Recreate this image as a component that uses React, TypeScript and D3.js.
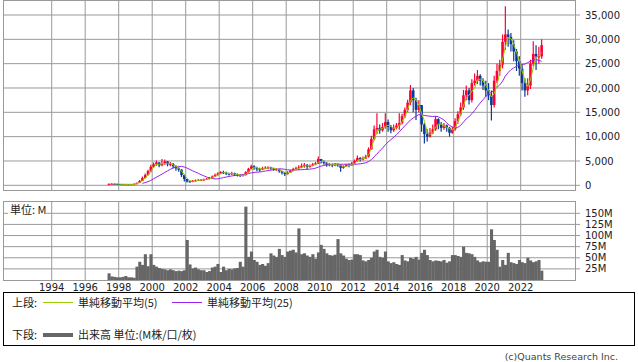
import React from 'react';
import * as d3 from 'd3';

// ---- axis ticks ----
const yearTicks = [1994, 1996, 1998, 2000, 2002, 2004, 2006, 2008, 2010, 2012, 2014, 2016, 2018, 2020, 2022];
const priceTicks = [0, 5000, 10000, 15000, 20000, 25000, 30000, 35000];
const volumeTicks = [25, 50, 75, 100, 125, 150];

// ---- time base: bi-monthly periods starting May 1997 ----
const startYear = 1997 + 4 / 12;
const periodLength = 2 / 12;

// ---- price (close / high / low per period) ----
const closes = [
  250, 320, 280, 250, // 1997
  220, 210, 210, 200, 200, 230, // 1998
  500, 900, 1500, 2100, 2900, 3800, // 1999
  4300, 4700, 4100, 4400, 4900, 4300, // 2000
  4400, 3900, 3500, 3200, 2100, 1300, // 2001
  800, 750, 900, 1000, 1100, 1100, // 2002
  1200, 1300, 1500, 1800, 2100, 2400, // 2003
  2700, 2600, 2400, 2300, 2500, 2200, // 2004
  2100, 1900, 2100, 2700, 3400, 3900, // 2005
  3600, 3300, 3200, 3500, 3600, 3700, // 2006
  3500, 3300, 3300, 2900, 2600, 2300, // 2007
  2600, 3000, 3300, 3500, 3700, 4000, // 2008
  4200, 3800, 4000, 4300, 4500, 5400, // 2009
  4900, 4600, 4200, 4300, 4100, 4300, // 2010
  4200, 3600, 3900, 4200, 4100, 4500, // 2011
  5000, 5600, 5300, 5500, 5900, 7400, // 2012
  9500, 11500, 11800, 11300, 12000, 13000, // 2013
  12000, 11300, 11800, 12300, 12800, 14200, // 2014
  15500, 17000, 19500, 17500, 15500, 16500, // 2015
  12500, 10500, 10000, 10800, 11500, 13600, // 2016
  12500, 11800, 12300, 11800, 10800, 11500, // 2017
  13200, 14600, 16000, 18500, 19500, 17500, // 2018
  21000, 21500, 22500, 21500, 20500, 19500, // 2019
  18500, 16500, 21500, 23500, 24800, 29500, // 2020
  31000, 30500, 29000, 27500, 25500, 24000, // 2021
  21000, 19500, 20500, 25000, 27000, 26500, // 2022
  26500, 28800, // 2023
];
const highs = [
  400, 400, 350, 300,
  250, 230, 230, 220, 220, 400,
  600, 1100, 1800, 2400, 3200, 4200,
  4700, 5100, 4800, 5400, 5300, 5000,
  4800, 4600, 4100, 3700, 3300, 2200,
  1300, 1000, 1100, 1200, 1300, 1300,
  1400, 1500, 1700, 2000, 2400, 2700,
  2900, 3000, 2800, 2600, 2800, 2600,
  2400, 2200, 2300, 2900, 3600, 4200,
  4100, 3800, 3600, 3800, 3900, 3900,
  3800, 3600, 3500, 3400, 3000, 2800,
  2900, 3200, 3600, 3800, 4100, 4500,
  4600, 4400, 4300, 4600, 4800, 5900,
  5400, 5100, 4800, 4600, 4500, 4600,
  4500, 4300, 4100, 4400, 4500, 4800,
  5300, 6100, 5800, 5900, 6300, 7800,
  10200, 12300, 14800, 12500, 12800, 14800,
  13500, 12400, 12500, 12800, 14800, 14700,
  16000, 17600, 20600, 20000, 18000, 17500,
  16000, 12800, 11500, 11800, 12500, 14200,
  13800, 13000, 12800, 12500, 12000, 12000,
  13800, 15200, 17000, 19600, 20500, 20000,
  21800, 23000, 23700, 22800, 22000, 21500,
  21000, 19500, 22500, 25000, 25800, 31000,
  36800, 32000, 31300, 29800, 28000, 26500,
  24800, 22000, 22000, 25800, 29600, 28800,
  28500, 30000,
];
const lows = [
  200, 250, 220, 200,
  200, 200, 190, 190, 190, 200,
  230, 450, 850, 1400, 2000, 2700,
  3600, 4000, 3700, 3900, 4200, 3900,
  3900, 3500, 3000, 2800, 1700, 800,
  600, 600, 650, 800, 900, 900,
  1000, 1100, 1200, 1400, 1700, 2000,
  2300, 2300, 2100, 2000, 2100, 1900,
  1800, 1700, 1800, 2000, 2600, 3300,
  3200, 2900, 2800, 3100, 3300, 3300,
  3200, 3000, 3000, 2600, 2200, 1900,
  2200, 2600, 2900, 3100, 3200, 3500,
  3600, 3300, 3600, 3900, 4100, 4400,
  4500, 4200, 3800, 3900, 3700, 3900,
  3800, 2800, 3400, 3800, 3700, 4000,
  4400, 4900, 4900, 5100, 5400, 5700,
  7300, 9200, 10500, 10600, 11000, 11600,
  11000, 10700, 11000, 11500, 11400, 12500,
  13800, 15000, 16500, 15000, 13400, 15000,
  11000, 8600, 9000, 9800, 10500, 11200,
  11500, 11000, 11400, 11000, 10000, 10600,
  11200, 12600, 14200, 15500, 17500, 16600,
  17000, 20500, 20800, 20500, 19600, 18200,
  17500, 13300, 16000, 21000, 22500, 24000,
  27800, 28500, 27500, 25500, 23500, 22500,
  19500, 18200, 18500, 19800, 24500, 23700,
  25000, 26000,
];

// ---- volume (millions) per period ----
const volumes = [
  15, 8, 7, 6,
  6, 7, 9, 6, 6, 5,
  30, 41, 34, 58, 31, 58,
  34, 30, 27, 25, 24, 22,
  24, 22, 20, 21, 20, 22,
  90, 35, 26, 28, 24, 22,
  22, 18, 20, 28, 30, 36,
  18, 30, 22, 25, 24, 26,
  27, 41, 30, 165, 52, 64,
  45, 41, 34, 36, 32, 38,
  60, 55, 52, 70, 56, 52,
  64, 66, 68, 62, 116, 58,
  60, 55, 52, 58, 48, 62,
  79, 70, 60, 56, 55, 57,
  92, 60, 55, 48, 45, 46,
  58, 58, 56, 44, 42, 45,
  50, 64, 68, 52, 50, 64,
  42, 38, 40, 36, 34, 56,
  44, 42, 50, 48, 52, 46,
  61, 68, 56, 45, 42, 44,
  43, 42, 45, 39, 42, 56,
  56, 54, 52, 75, 61, 60,
  58, 52, 44, 40, 42, 41,
  41, 114, 90, 68, 30, 45,
  34, 61, 40, 38, 36, 45,
  40, 38, 50, 44, 40, 42,
  45, 21,
];

const UP = '#ff0033';
const DOWN = '#0a3a99';
const MA_SHORT = '#99cc00';
const MA_LONG = '#9a22ee';
const GRID = '#999999';
const FONT = 'DejaVu Sans, Verdana, sans-serif';
const JFONT = '"Noto Sans CJK JP", "Noto Sans", sans-serif';

function movingAverage(values: number[], n: number) {
  return values.map((_, i) => (i < n - 1 ? null : d3.mean(values.slice(i - n + 1, i + 1)) as number));
}

export default function App() {
  const L = 3, R = 575;
  const x = d3.scaleLinear().domain([1994, 2022]).range([51.7, 520.7]);
  const yP = d3.scaleLinear().domain([0, 35000]).range([185.3, 15]);
  const yV = d3.scaleLinear().domain([0, 150]).range([280, 213.3]);

  const pStart = (i: number) => startYear + i * periodLength;
  const pMid = (i: number) => x(pStart(i) + periodLength / 2);

  const ma5 = movingAverage(closes, 3);
  const ma25 = movingAverage(closes, 13);
  const lineGen = d3
    .line<number | null>()
    .defined((d) => d != null)
    .x((_, i) => pMid(i))
    .y((d) => yP(d as number));

  const upTop = 0.5, upBottom = 190.5;
  const loTop = 201.5, loBottom = 280.5;

  return (
    <svg width={638} height={362} style={{ position: 'absolute', left: 0, top: 0, background: '#fff' }}>
      <rect x={0} y={0} width={638} height={362} fill="#fff" />
      {/* upper grid */}
      <g stroke={GRID} strokeWidth={1}>
        {yearTicks.map((t) => (
          <line key={'ux' + t} x1={x(t)} x2={x(t)} y1={upTop} y2={upBottom} />
        ))}
        {priceTicks.map((v) => (
          <line key={'uy' + v} x1={L} x2={R + 5} y1={yP(v)} y2={yP(v)} />
        ))}
        <rect x={L + 0.5} y={upTop} width={R - L} height={upBottom - upTop} fill="none" />
      </g>
      {priceTicks.map((v) => (
        <text key={'ul' + v} x={585} y={yP(v)} dy="0.36em" fontFamily={FONT} fontSize={10} fill="#222">
          {d3.format(',')(v)}
        </text>
      ))}
      {/* candles */}
      <g>
        {closes.map((c, i) => {
          const o = i === 0 ? lows[0] : closes[i - 1];
          const col = c >= o ? UP : DOWN;
          const cx = pMid(i);
          const top = yP(Math.max(o, c));
          const bot = yP(Math.min(o, c));
          return (
            <g key={'c' + i}>
              <line x1={cx} x2={cx} y1={yP(highs[i])} y2={yP(lows[i])} stroke={col} strokeWidth={1.2} />
              <rect x={cx - 1.3} y={top} width={2.6} height={Math.max(1, bot - top)} fill={col} />
            </g>
          );
        })}
      </g>
      <path d={lineGen(ma25) || ''} fill="none" stroke={MA_LONG} strokeWidth={1} />
      <path d={lineGen(ma5) || ''} fill="none" stroke={MA_SHORT} strokeWidth={1} />

      {/* lower grid */}
      <g stroke={GRID} strokeWidth={1}>
        {yearTicks.map((t) => (
          <line key={'lx' + t} x1={x(t)} x2={x(t)} y1={loTop} y2={loBottom} />
        ))}
        {volumeTicks.map((v) => (
          <line key={'ly' + v} x1={L} x2={R + 5} y1={yV(v)} y2={yV(v)} />
        ))}
      </g>
      <g fill="#666666">
        {volumes.map((v, i) => (
          <rect
            key={'v' + i}
            x={x(pStart(i))}
            y={yV(v)}
            width={x(pStart(i + 1)) - x(pStart(i)) + 0.3}
            height={yV(0) - yV(v)}
          />
        ))}
      </g>
      <rect x={L + 0.5} y={loTop} width={R - L} height={loBottom - loTop} fill="none" stroke={GRID} />
      <rect x={8} y={204} width={38} height={13} fill="#fff" />
      <text x={10} y={210.5} dy="0.36em" fontFamily={JFONT} fontSize={11} fill="#222">
        単位: M
      </text>
      {volumeTicks.map((v) => (
        <text key={'vl' + v} x={585} y={yV(v)} dy="0.36em" fontFamily={FONT} fontSize={10} fill="#222">
          {v}M
        </text>
      ))}
      {yearTicks.map((t) => (
        <text key={'yl' + t} x={x(t)} y={287} dy="0.36em" textAnchor="middle" fontFamily={FONT} fontSize={10} fill="#222">
          {t}
        </text>
      ))}

      {/* legend */}
      <rect x={3.5} y={292.5} width={631} height={53} fill="none" stroke="#000" />
      <text x={12} y={303} dy="0.36em" fontFamily={JFONT} fontSize={11} fill="#222">上段:</text>
      <line x1={43} x2={73} y1={302.5} y2={302.5} stroke={MA_SHORT} strokeWidth={1} />
      <text x={78} y={303} dy="0.36em" fontFamily={JFONT} fontSize={11} fill="#222">単純移動平均(5)</text>
      <line x1={172} x2={202} y1={302.5} y2={302.5} stroke={MA_LONG} strokeWidth={1} />
      <text x={207} y={303} dy="0.36em" fontFamily={JFONT} fontSize={11} fill="#222">単純移動平均(25)</text>
      <text x={12} y={335} dy="0.36em" fontFamily={JFONT} fontSize={11} fill="#222">下段:</text>
      <line x1={43} x2={73} y1={335} y2={335} stroke="#666666" strokeWidth={4} />
      <text x={78} y={335} dy="0.36em" fontFamily={JFONT} fontSize={11} fill="#222">出来高 単位:(M株/口/枚)</text>

      <text x={618} y={357} dy="0.36em" textAnchor="end" fontFamily={FONT} fontSize={9.5} fill="#444">
        (c)Quants Research Inc.
      </text>
    </svg>
  );
}
